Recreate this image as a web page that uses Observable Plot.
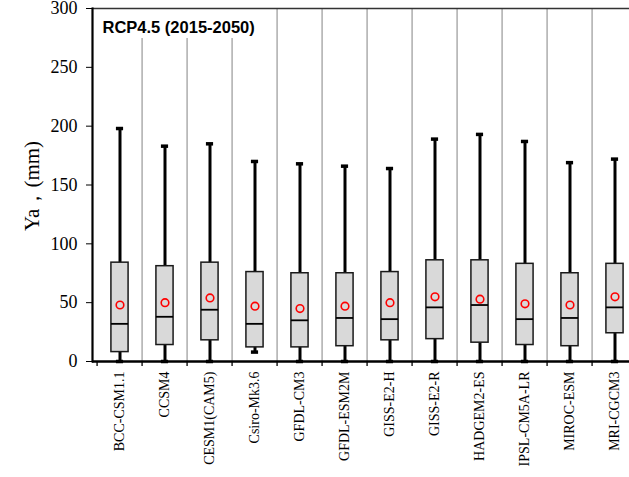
<!DOCTYPE html>
<html>
<head>
<meta charset="utf-8">
<script src="https://cdn.jsdelivr.net/npm/d3@7"></script>
<script src="https://cdn.jsdelivr.net/npm/@observablehq/plot@0.6"></script>
<style>
  html, body { margin: 0; padding: 0; background: white; overflow: hidden; }
  #chart svg g[aria-label="y-axis tick label"],
  #chart svg g[aria-label="x-axis tick label"] { font-family: 'Liberation Serif', 'Times New Roman', serif; }
</style>
</head>
<body>
<div id="chart"></div>
<script>
const categories = ["BCC-CSM1.1","CCSM4","CESM1(CAM5)","Csiro-Mk3.6","GFDL-CM3","GFDL-ESM2M","GISS-E2-H","GISS-E2-R","HADGEM2-ES","IPSL-CM5A-LR","MIROC-ESM","MRI-CGCM3"];
const maxV   = [198,183,185,170,168,166,164,189,193,187,169,172];
const q3V    = [84,81,84,76,75,75,76,86,86,83,75,83];
const medV   = [32,38,44,32,35,37,36,46,48,36,37,46];
const q1V    = [8,14,18,12,12,13,18,19,16,14,13,24];
const minV   = [0,0,0,8,0,0,0,0,0,0,0,0];
const meanV  = [48,50,54,47,45,47,50,55,53,49,48,55];
const yTicks = [0,50,100,150,200,250,300];
const title = "RCP4.5 (2015-2050)";
const yLabel = "Ya，(mm)";

const data = categories.map((c, i) => ({
  model: c, max: maxV[i], q3: q3V[i], med: medV[i], q1: q1V[i], min: minV[i], mean: meanV[i]
}));

const W = 642, H = 477, ML = 92, MR = 0, MT = 8, MB = 116;
const bw = (W - ML - MR) / categories.length;
const serif = "'Liberation Serif', 'Times New Roman', serif";
const boxInset = (bw - 18) / 2;
const capInset = (bw - 8) / 2;

const labelBox = (index, scales, values, dims) => {
  const g = d3.create("svg:rect")
    .attr("x", dims.marginLeft + 1)
    .attr("y", dims.marginTop + 1)
    .attr("width", 178)
    .attr("height", 29)
    .attr("fill", "white");
  return g.node();
};

const chart = Plot.plot({
  width: W,
  height: H,
  marginLeft: ML,
  marginRight: MR,
  marginTop: MT,
  marginBottom: MB,
  style: {maxWidth: "none", fontFamily: serif, background: "white", color: "black", overflow: "visible"},
  x: {domain: categories, padding: 0, label: null},
  y: {domain: [0, 300], label: null},
  marks: [
    // vertical gridlines at band boundaries
    Plot.ruleX(categories.slice(1), {x: d => d, dx: -bw / 2, stroke: "#a0a0a0", strokeWidth: 1.3}),
    labelBox,
    Plot.text([title], {frameAnchor: "top-left", dx: 10, dy: 19, lineAnchor: "middle", textAnchor: "start",
      fontFamily: "'Liberation Sans', Arial, sans-serif", fontWeight: "bold", fontSize: 16.5, fill: "black"}),
    // top border
    Plot.ruleY([300], {stroke: "#333", strokeWidth: 1.3}),
    // whiskers
    Plot.ruleX(data, {x: "model", y1: "q3", y2: "max", stroke: "black", strokeWidth: 3}),
    Plot.ruleX(data, {x: "model", y1: "min", y2: "q1", stroke: "black", strokeWidth: 3}),
    Plot.tickY(data, {x: "model", y: "max", stroke: "black", strokeWidth: 3.5, insetLeft: capInset, insetRight: capInset}),
    Plot.tickY(data, {x: "model", y: "min", stroke: "black", strokeWidth: 3.5, insetLeft: capInset, insetRight: capInset}),
    // boxes
    Plot.barY(data, {x: "model", y1: "q1", y2: "q3", fill: "#d9d9d9", stroke: "#1a1a1a", strokeWidth: 1.5, insetLeft: boxInset, insetRight: boxInset}),
    Plot.tickY(data, {x: "model", y: "med", stroke: "black", strokeWidth: 1.8, insetLeft: boxInset, insetRight: boxInset}),
    // means
    Plot.dot(data, {x: "model", y: "mean", r: 3.8, stroke: "red", strokeWidth: 1.6, fill: "none"}),
    // axes
    Plot.ruleY([0], {stroke: "black", strokeWidth: 2.5}),
    Plot.frame({anchor: "left", stroke: "black", strokeWidth: 2.2}),
    Plot.ruleX(categories, {x: d => d, dx: -bw / 2, y1: 0, y2: 0, insetBottom: -5, stroke: "black", strokeWidth: 1.3}),
    Plot.axisY({ticks: yTicks, tickSize: 6, tickPadding: 9, fontSize: 18, fontFamily: serif, label: null}),
    Plot.axisX({tickSize: 0, tickRotate: -90, tickPadding: 10, fontSize: 14, fontFamily: serif, label: null}),
    Plot.text([yLabel], {frameAnchor: "left", dx: -60, dy: 46, rotate: -90, fontSize: 21, fontFamily: serif, fill: "black"})
  ]
});
document.getElementById("chart").appendChild(chart);
</script>
</body>
</html>
